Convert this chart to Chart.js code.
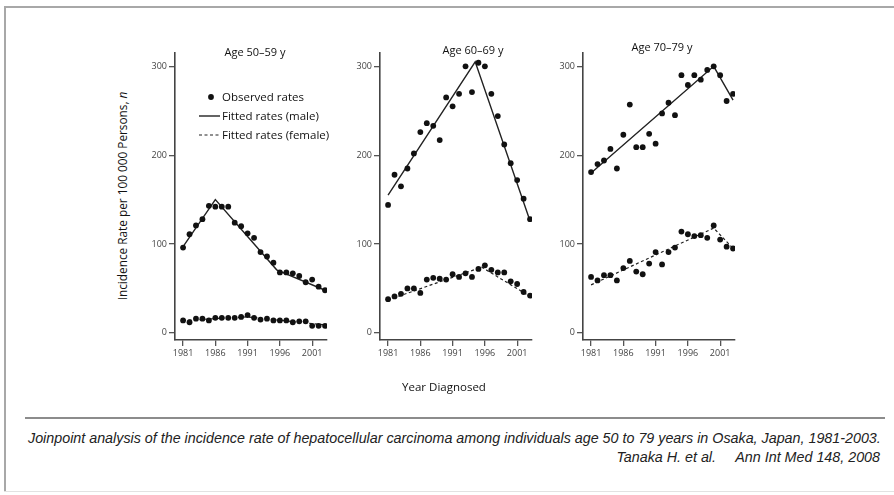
<!DOCTYPE html>
<html>
<head>
<meta charset="utf-8">
<script src="https://cdn.jsdelivr.net/npm/chart.js@4.4.1/dist/chart.umd.min.js"></script>
<style>
  body { margin: 0; width: 894px; height: 495px; background: #fff; position: relative; overflow: hidden; font-family: "Open Sans", sans-serif; color: #111; }
  canvas { position: absolute; top: 40px; }
  .line { position: absolute; }
  .title { position: absolute; width: 120px; text-align: center; font-size: 11px; }
  .ytitle { position: absolute; width: 280px; left: -18px; top: 188px; text-align: center; font-size: 11.8px; transform: rotate(-90deg); }
  .xtitle { position: absolute; left: 344px; top: 379px; width: 200px; text-align: center; font-size: 11.5px; }
  .legend { position: absolute; left: 196px; font-size: 11.5px; }
  .legend div { height: 19px; display: flex; align-items: center; }
  .legend svg { width: 26px; height: 10px; }
  .caption { position: absolute; font-family: "Liberation Sans", Arial, sans-serif; font-style: italic; font-size: 14.3px; color: #222; white-space: pre; }
</style>
</head>
<body>
<div class="line" style="left:4px;top:6px;width:890px;height:2px;background:#a8a8a8"></div>
<div class="line" style="left:4px;top:6px;width:2px;height:486px;background:#a8a8a8"></div>
<div class="line" style="left:4px;top:491px;width:890px;height:1px;background:#e2e2e2"></div>
<div class="line" style="left:25px;top:417px;width:860px;height:2px;background:#8c8c8c"></div>

<canvas id="p1" width="204" height="340" style="left:135px"></canvas>
<canvas id="p2" width="204" height="340" style="left:340px"></canvas>
<canvas id="p3" width="204" height="340" style="left:543px"></canvas>

<div class="title" style="left:195px;top:44px">Age 50–59 y</div>
<div class="title" style="left:413px;top:42px">Age 60–69 y</div>
<div class="title" style="left:602px;top:39px">Age 70–79 y</div>

<div class="ytitle">Incidence Rate per 100 000 Persons, <i>n</i></div>
<div class="xtitle">Year Diagnosed</div>

<div class="legend" style="top:87px">
  <div><svg><circle cx="15" cy="5" r="2.9" fill="#111"/></svg>Observed rates</div>
  <div><svg><line x1="3" y1="5" x2="24" y2="5" stroke="#222" stroke-width="1.4"/></svg>Fitted rates (male)</div>
  <div><svg><line x1="3" y1="5" x2="24" y2="5" stroke="#222" stroke-width="1.2" stroke-dasharray="3,2.5"/></svg>Fitted rates (female)</div>
</div>

<div class="caption" style="left:28px;top:430px">Joinpoint analysis of the incidence rate of hepatocellular carcinoma among individuals age 50 to 79 years in Osaka, Japan, 1981-2003.</div>
<div class="caption" style="right:14px;top:449px">Tanaka H. et al.     Ann Int Med 148, 2008</div>

<script>
const years = [1981, 1982, 1983, 1984, 1985, 1986, 1987, 1988, 1989, 1990, 1991, 1992,
               1993, 1994, 1995, 1996, 1997, 1998, 1999, 2000, 2001, 2002, 2003];
const tickYears = [1981, 1986, 1991, 1996, 2001];
const tickRates = [0, 100, 200, 300];

// observed rates
const male5059   = [96, 111, 121, 128, 143, 142, 142, 142, 124, 120, 112, 107, 91, 86, 79, 68, 68, 67, 64, 57, 60, 52, 48];
const female5059 = [14, 12, 16, 16, 14, 17, 17, 17, 17, 18, 20, 17, 15, 16, 14, 14, 14, 12, 13, 13, 8, 8, 8];
const male6069   = [144, 178, 165, 185, 202, 226, 236, 233, 217, 265, 255, 269, 300, 271, 304, 300, 269, 244, 212, 191, 172, 151, 128];
const female6069 = [38, 41, 44, 50, 50, 45, 60, 62, 61, 60, 66, 63, 67, 63, 72, 76, 71, 68, 68, 58, 55, 46, 42];
const male7079   = [181, 190, 194, 207, 185, 223, 257, 209, 209, 224, 213, 247, 259, 245, 290, 279, 290, 285, 296, 300, 290, 261, 269];
const female7079 = [63, 59, 65, 65, 59, 73, 81, 69, 66, 78, 91, 77, 91, 96, 114, 111, 109, 110, 107, 121, 105, 97, 95];

// fitted joinpoint segments
const fitMaleYears5059 = [1981, 1986, 1995.5, 2003];
const fitMale5059      = [97, 150, 71, 48];
const fitFemaleYears5059 = [1981, 1991, 2003];
const fitFemale5059      = [14, 18, 9];
const fitMaleYears6069 = [1981, 1994.5, 2003];
const fitMale6069      = [155, 305, 126];
const fitFemaleYears6069 = [1981, 1995.5, 2003];
const fitFemale6069      = [37, 74, 41];
const fitMaleYears7079 = [1981, 2000, 2003];
const fitMale7079      = [180, 300, 262];
const fitFemaleYears7079 = [1981, 2000, 2003];
const fitFemale7079      = [54, 118, 95];

function toPoints(xs, ys){
    return xs.map((x, i) => ({x: x, y: ys[i]}));
}

function makePanel(canvasId, male, female, fmX, fmY, ffX, ffY){
    const dot = {pointRadius: 2.9, pointBackgroundColor: '#111', pointBorderWidth: 0, showLine: false};
    new Chart(document.getElementById(canvasId), {
        type: 'scatter',
        data: {
            datasets: [
                Object.assign({data: toPoints(years, male)}, dot),
                Object.assign({data: toPoints(years, female)}, dot),
                {data: toPoints(fmX, fmY), showLine: true, pointRadius: 0, borderColor: '#222', borderWidth: 1.4},
                {data: toPoints(ffX, ffY), showLine: true, pointRadius: 0, borderColor: '#222', borderWidth: 1.2, borderDash: [3, 2.5]}
            ]
        },
        options: {
            responsive: false,
            animation: false,
            events: [],
            layout: {padding: {top: 13, right: 12, bottom: 10, left: 0}},
            plugins: {legend: {display: false}, tooltip: {enabled: false}},
            scales: {
                x: {
                    type: 'linear', min: 1979.75, max: 2003.3,
                    afterBuildTicks: s => { s.ticks = tickYears.map(v => ({value: v})); },
                    afterFit: s => { s.height = 30; },
                    grid: {drawOnChartArea: false, tickLength: 6, color: '#555', lineWidth: 1.3},
                    border: {color: '#444', width: 1.6},
                    ticks: {font: {family: 'Open Sans', size: 9}, color: '#444', padding: 2, maxRotation: 0, callback: v => String(v)}
                },
                y: {
                    type: 'linear', min: -8, max: 315,
                    afterBuildTicks: s => { s.ticks = tickRates.map(v => ({value: v})); },
                    afterFit: s => { s.width = 40; },
                    grid: {drawOnChartArea: false, tickLength: 6, color: '#555', lineWidth: 1.3},
                    border: {color: '#444', width: 1.6},
                    ticks: {font: {family: 'Open Sans', size: 9}, color: '#444', padding: 2, callback: v => String(v)}
                }
            }
        }
    });
}

makePanel('p1', male5059, female5059, fitMaleYears5059, fitMale5059, fitFemaleYears5059, fitFemale5059);
makePanel('p2', male6069, female6069, fitMaleYears6069, fitMale6069, fitFemaleYears6069, fitFemale6069);
makePanel('p3', male7079, female7079, fitMaleYears7079, fitMale7079, fitFemaleYears7079, fitFemale7079);
</script>
</body>
</html>
